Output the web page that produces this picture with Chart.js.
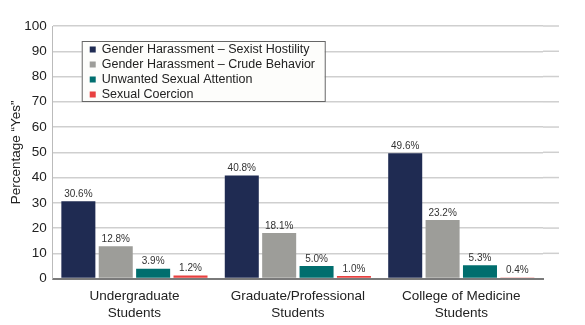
<!DOCTYPE html>
<html>
<head>
<meta charset="utf-8">
<script src="https://cdn.jsdelivr.net/npm/chart.js@4/dist/chart.umd.min.js"></script>
<style>
  html, body { margin: 0; padding: 0; background: #fff; }
  #wrap { width: 585px; height: 325px; }
</style>
</head>
<body>
<div id="wrap"><canvas id="chart"></canvas></div>
<script>
// data
const groups = [["Undergraduate", "Students"], ["Graduate/Professional", "Students"], ["College of Medicine", "Students"]];
const seriesNames = ["Gender Harassment \u2013 Sexist Hostility", "Gender Harassment \u2013 Crude Behavior", "Unwanted Sexual Attention", "Sexual Coercion"];
const sexistHostility = [30.6, 40.8, 49.6];
const crudeBehavior = [12.8, 18.1, 23.2];
const unwantedAttention = [3.9, 5.0, 5.3];
const sexualCoercion = [1.2, 1.0, 0.4];
const yTicks = [0, 10, 20, 30, 40, 50, 60, 70, 80, 90, 100];

const colors = ["#1f2b52", "#9d9d99", "#006e6e", "#e8403f"];
const allValues = [sexistHostility, crudeBehavior, unwantedAttention, sexualCoercion];
const FONT = "'Liberation Sans', Arial, sans-serif";

// gridlines run a bit past the last group
const gridExtend = {
  id: "gridExtend",
  beforeDatasetsDraw(chart) {
    const { ctx, chartArea, scales } = chart;
    ctx.save();
    ctx.strokeStyle = "#cfcfcf";
    ctx.lineWidth = 1.5;
    yTicks.forEach((v) => {
      if (v === 0) return;
      const py = scales.y.getPixelForValue(v);
      ctx.beginPath();
      ctx.moveTo(chartArea.right, py);
      ctx.lineTo(chartArea.right + 16, py);
      ctx.stroke();
    });
    ctx.restore();
  },
};

// value labels above bars
const barLabels = {
  id: "barLabels",
  afterDatasetsDraw(chart) {
    const { ctx } = chart;
    ctx.save();
    ctx.font = "10px " + FONT;
    ctx.fillStyle = "#333";
    ctx.textAlign = "center";
    ctx.textBaseline = "bottom";
    chart.data.datasets.forEach((ds, i) => {
      chart.getDatasetMeta(i).data.forEach((bar, j) => {
        ctx.fillText(ds.data[j].toFixed(1) + "%", bar.x, bar.y - 2);
      });
    });
    ctx.restore();
  },
};

// boxed legend inside the plot
const boxLegend = {
  id: "boxLegend",
  afterDraw(chart) {
    const { ctx, chartArea } = chart;
    const x = chartArea.left + 29, y = chartArea.top + 15;
    const w = 243, h = 60;
    ctx.save();
    ctx.fillStyle = "#fdfdfb";
    ctx.strokeStyle = "#666";
    ctx.lineWidth = 1;
    ctx.fillRect(x, y, w, h);
    ctx.strokeRect(x + 0.5, y + 0.5, w, h);
    ctx.font = "12.5px " + FONT;
    ctx.textBaseline = "middle";
    chart.data.datasets.forEach((ds, i) => {
      const ly = y + 8.5 + i * 15;
      ctx.fillStyle = ds.backgroundColor;
      ctx.fillRect(x + 8, ly - 3, 6, 6);
      ctx.fillStyle = "#222";
      ctx.fillText(ds.label, x + 20, ly);
    });
    ctx.restore();
  },
};

const config = {
  type: "bar",
  data: {
    labels: groups,
    datasets: seriesNames.map((name, i) => ({
      label: name,
      data: allValues[i],
      backgroundColor: colors[i],
      borderWidth: 0,
      categoryPercentage: 0.915,
      barPercentage: 0.91,
    })),
  },
  options: {
    responsive: true,
    maintainAspectRatio: false,
    animation: false,
    layout: { padding: { top: 26, right: 42, left: 4, bottom: 2 } },
    plugins: {
      legend: { display: false },
      tooltip: { enabled: false },
    },
    scales: {
      x: {
        grid: { display: false },
        border: { color: "#7a7a7a", width: 2 },
        ticks: {
          color: "#222",
          font: { size: 13.5, family: FONT },
          padding: 2,
          maxRotation: 0,
        },
      },
      y: {
        min: 0,
        max: 100,
        afterBuildTicks(axis) {
          axis.ticks = yTicks.map((v) => ({ value: v }));
        },
        grid: { color: "#cfcfcf", lineWidth: 1.5, drawTicks: false },
        border: { color: "#bbb", width: 1 },
        ticks: {
          color: "#222",
          font: { size: 13.5, family: FONT },
          padding: 6,
        },
        title: {
          display: true,
          text: "Percentage \u201cYes\u201d",
          color: "#222",
          font: { size: 13.5, family: FONT },
          padding: { top: 4, bottom: -6 },
        },
      },
    },
  },
  plugins: [gridExtend, barLabels, boxLegend],
};

new Chart(document.getElementById("chart"), config);
</script>
</body>
</html>
